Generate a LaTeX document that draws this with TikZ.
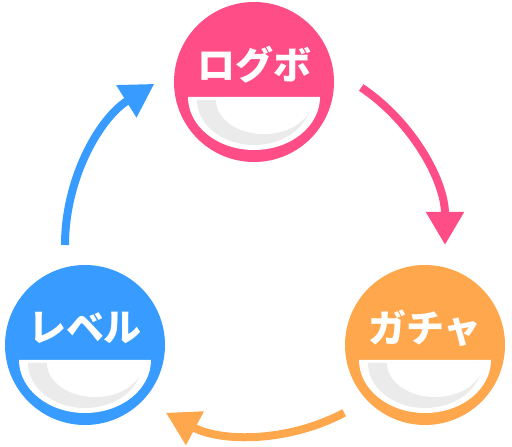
\documentclass[tikz,border=0pt]{standalone}
\usepackage{fontspec}
\newfontfamily\jpfont{Noto Sans CJK JP}
\usetikzlibrary{calc,arrows.meta}
\definecolor{logpink}{RGB}{255,77,135}
\definecolor{gachaorange}{RGB}{255,167,77}
\definecolor{levelblue}{RGB}{55,155,255}
\definecolor{cupgrey}{RGB}{235,235,235}
\tikzset{
  badge/.style={circle,fill=#1,minimum size=160pt,inner sep=0pt},
  tag/.style={text=white,font=\jpfont\bfseries\fontsize{38}{38}\selectfont,inner sep=0pt},
  flow/.style={line width=8pt,draw=#1,-{Triangle[width=36pt,length=33pt]}}
}
% white cup under the label
\newcommand\badgecup[1]{%
  \fill[white] ($ (#1.center) + (-66pt,-15pt) $) arc[start angle=180,end angle=360,x radius=66pt,y radius=53pt] -- cycle;
  \fill[cupgrey] ($ (#1.center) + (-57pt,-18pt) $) arc[start angle=180,end angle=360,x radius=57pt,y radius=45pt] -- cycle;
  \fill[white] ($ (#1.center) + (-38pt,-18pt) $) arc[start angle=180,end angle=360,x radius=48pt,y radius=34pt] -- cycle;
}

\begin{document}
\begin{tikzpicture}[x=1pt,y=1pt]
  \useasboundingbox (0,0) rectangle (512,447);
  \node[badge=logpink] (logbo) at (254,365) {};
  \node[badge=gachaorange] (gacha) at (425,102) {};
  \node[badge=levelblue] (level) at (85,102) {};
  \node[tag] at ($ (logbo.center) + (0,17) $) {ログボ};
  \node[tag] at ($ (gacha.center) + (0,17) $) {ガチャ};
  \node[tag] at ($ (level.center) + (0,17) $) {レベル};
  \badgecup{logbo}
  \badgecup{gacha}
  \badgecup{level}
  \coordinate (hub) at (255,202);
  \draw[flow=logpink] ($ (hub) + (56:190pt) $) arc[start angle=56,end angle=0,radius=190pt];
  \draw[flow=gachaorange] ($ (hub) + (-62:190pt) $) arc[start angle=-62,end angle=-118,radius=190pt];
  \draw[flow=levelblue] ($ (hub) + (180:190pt) $) arc[start angle=180,end angle=122,radius=190pt];
\end{tikzpicture}
\end{document}
